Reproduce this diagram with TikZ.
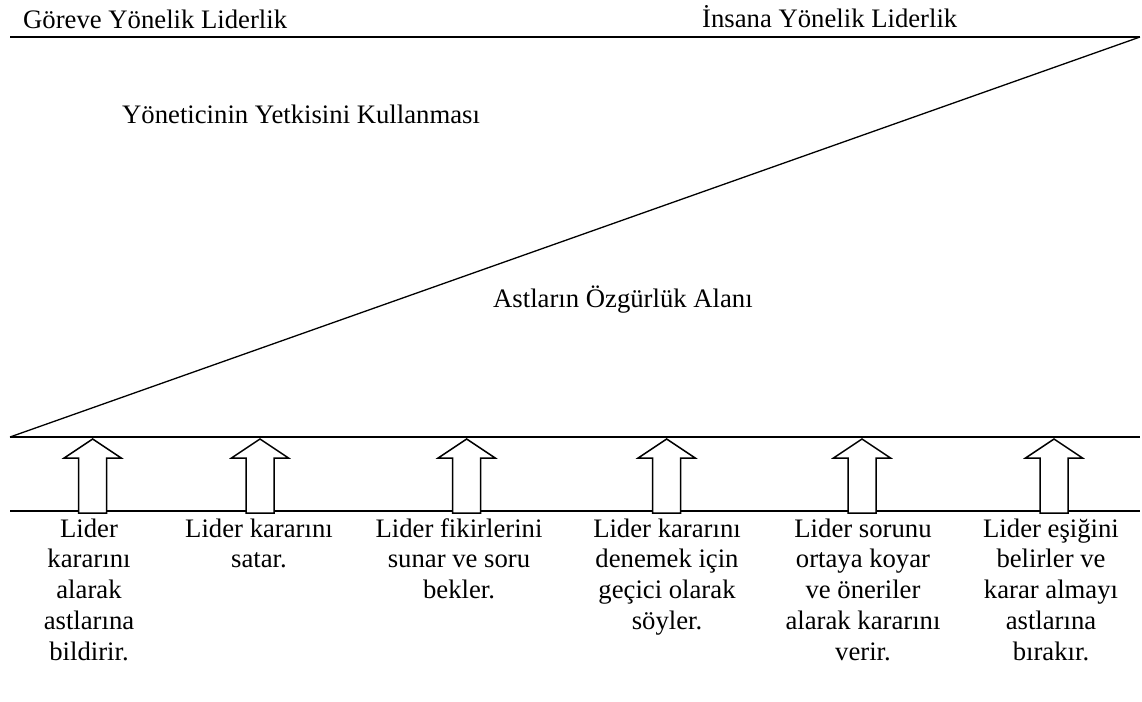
\documentclass[tikz,border=0pt]{standalone}
\usepackage{fontspec}
\setmainfont{Liberation Serif}
\usepackage{tikz}
\usetikzlibrary{positioning}
\newcommand{\topstrut}{\rule{0pt}{21pt}}

\begin{document}
\begin{tikzpicture}[x=1pt,y=-1pt,
	label text/.style={inner sep=0pt,font=\fontsize{26.7}{30.7}\selectfont},
	step text/.style={label text,anchor=north,align=center},
	main line/.style={line width=2pt},
	up arrow/.style={line width=1.5pt,fill=white,line join=miter}]
	\useasboundingbox (0,0) rectangle (1142,701);
	% Corners of the lines
	\coordinate (tl) at (10,37);
	\coordinate (tr) at (1140,37);
	\coordinate (ml) at (10,437);
	\coordinate (mr) at (1140,437);
	\coordinate (bl) at (10,511);
	\coordinate (br) at (1140,511);
	% Draw lines
	\draw[main line] (tl) -- (tr);
	\draw[line width=1.3pt] (ml) -- (tr);
	\draw[main line] (ml) -- (mr);
	\draw[main line] (bl) -- (br);
	% Top labels
	\node[label text,anchor=base west] (gorev) at (23,29) {Göreve Yönelik Liderlik};
	\node[label text,anchor=base west] (insan) at (702,28) {İnsana Yönelik Liderlik};
	\node[label text,anchor=base west] (yetki) at (122,123) {Yöneticinin Yetkisini Kullanması};
	\node[label text,anchor=base west] (ozgur) at (493,307) {Astların Özgürlük Alanı};
	% Draw arrows
	\foreach \a in {92.7,260,466.7,666.7,862,1054}
		\draw[up arrow] (\a,439) -- (\a+28.5,458) -- (\a+14,458) -- (\a+14,513)
			-- (\a-14,513) -- (\a-14,458) -- (\a-28.5,458) -- cycle;
	% Label steps
	\node[step text] (s1) at (89,516) {\topstrut Lider\\kararını\\alarak\\astlarına\\bildirir.};
	\node[step text] (s2) at (259,516) {\topstrut Lider kararını\\satar.};
	\node[step text] (s3) at (459,516) {\topstrut Lider fikirlerini\\sunar ve soru\\bekler.};
	\node[step text] (s4) at (667,516) {\topstrut Lider kararını\\denemek için\\geçici olarak\\söyler.};
	\node[step text] (s5) at (863,516) {\topstrut Lider sorunu\\ortaya koyar\\ve öneriler\\alarak kararını\\verir.};
	\node[step text] (s6) at (1051,516) {\topstrut Lider eşiğini\\belirler ve\\karar almayı\\astlarına\\bırakır.};
\end{tikzpicture}
\end{document}
